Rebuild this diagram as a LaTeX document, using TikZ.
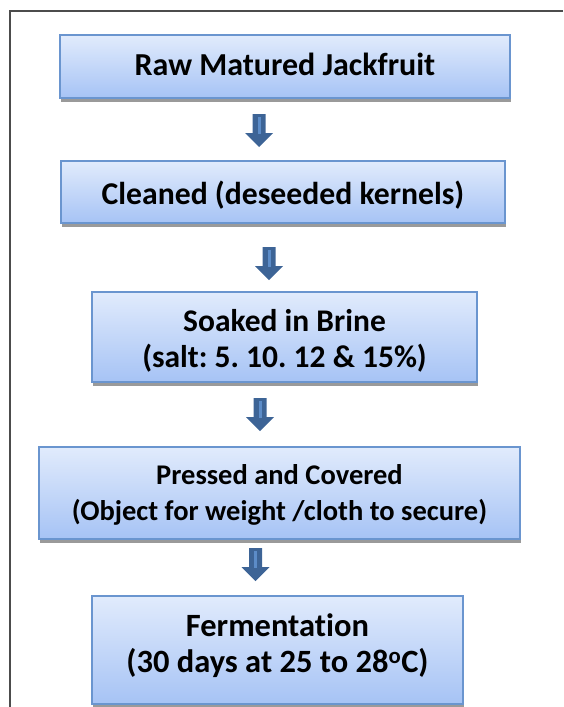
\documentclass[tikz,border=0pt]{standalone}
\usepackage{fontspec}
\setmainfont{Carlito}[RawFeature=-liga]
\usetikzlibrary{calc}
\definecolor{boxtop}{HTML}{E1EBFC}
\definecolor{boxbot}{HTML}{A6C3F5}
\definecolor{boxline}{HTML}{6A95CF}
\definecolor{arrfill}{HTML}{3D6496}
\definecolor{arrlight}{HTML}{5C8CC8}
\definecolor{shadowc}{HTML}{9A9A9A}
\begin{document}
\frenchspacing
\begin{tikzpicture}[x=1pt,y=-1pt,
  stepbox/.style={draw=boxline, line width=1.3pt, top color=boxtop, bottom color=boxbot,
    inner sep=0pt},
  steptext/.style={anchor=base, inner sep=0pt, align=center, text=black},
  blockarr/.style={fill=arrfill, draw=none},
  framel/.style={draw=black!70, line width=1.1pt}
]
\useasboundingbox (0,0) rectangle (563,707);
% frame
\coordinate (ftr) at (563,11);
\coordinate (ftl) at (10,11);
\coordinate (fbl) at (10,707);
\draw[framel] (ftr) -- (ftl) -- (fbl);

% shadows + boxes
\newcommand{\flowbox}[8]{% name, x1, y1, x2, y2, last-baseline offset, font size, text
  \fill[shadowc] (#2+1,#5) rectangle (#4+1,#5+4);
  \node[stepbox, minimum width=#4-#2, minimum height=#5-#3] (#1) at ({(#2+#4)/2},{(#3+#5)/2}) {};
  \node[steptext, font=\fontsize{#7}{36}\selectfont\bfseries] (#1t) at ($(#1.north)+(0,#6)$) {#8};
}
\flowbox{b1}{60}{35}{510}{98}{41}{32}{Raw Matured Jackfruit}
\flowbox{b2}{61}{161}{505}{223}{44}{31.7}{Cleaned (deseeded kernels)}
\flowbox{b3}{92}{292}{477}{382}{76}{31.5}{Soaked in Brine\\(salt: 5. 10. 12 \& 15\%)}
\flowbox{b4}{39}{447}{520}{539}{74}{28.5}{Pressed and Covered\\(Object for weight /cloth to secure)}
\flowbox{b5}{92}{596}{463}{704}{77}{32.5}{Fermentation\\(30 days at 25 to 28\textsuperscript{o}C)}

% block arrows
\newcommand{\flowarrow}[3]{% name, x, y
  \coordinate (#1) at (#2,#3);
  \fill[blockarr] (#1) ++(-6.5,0) -- ++(13,0) -- ++(0,19) -- ++(7.5,0) -- ++(-14,14) -- ++(-14,-14) -- ++(7.5,0) -- cycle;
  \draw[arrlight, line width=3pt] (#1) ++(0,3) -- ++(0,17);
}
\flowarrow{a1}{259}{114}
\flowarrow{a2}{269}{247}
\flowarrow{a3}{260}{398}
\flowarrow{a4}{255.5}{548}
\end{tikzpicture}
\end{document}
